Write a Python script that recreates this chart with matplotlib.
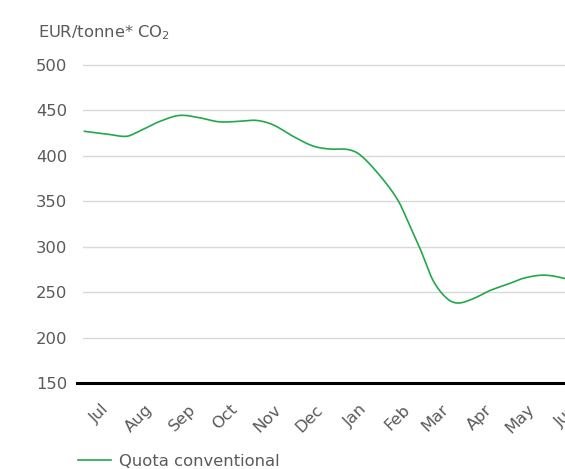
import numpy as np
import matplotlib
matplotlib.use("Agg")
import matplotlib.pyplot as plt
import matplotlib.dates as mdates
import matplotlib.transforms as mtransforms
import pandas as pd

# ---------------- data ----------------
dates = [
    "2022-06-17", "2022-07-03", "2022-07-17", "2022-07-26", "2022-08-10",
    "2022-08-24", "2022-09-07", "2022-09-21", "2022-10-06", "2022-10-18",
    "2022-10-30", "2022-11-13", "2022-11-27", "2022-12-09", "2022-12-22",
    "2022-12-31", "2023-01-15", "2023-01-27", "2023-02-03", "2023-02-12",
    "2023-02-21", "2023-03-03", "2023-03-11", "2023-03-22", "2023-04-03",
    "2023-04-15", "2023-04-26", "2023-05-08", "2023-05-17", "2023-05-26",
    "2023-06-10",
]
values = [
    427, 424, 421.5, 427, 438,
    444.5, 442, 437.5, 438, 439,
    434, 421.5, 411, 407.5, 407,
    401, 376.5, 351, 328, 297,
    263, 243, 238, 243, 252,
    258.5, 265, 268.5, 268, 265,
    262,
]
month_labels = ["Jul", "Aug", "Sep", "Oct", "Nov", "Dec",
                "Jan", "Feb", "Mar", "Apr", "May", "Jun"]
y_ticks = [150, 200, 250, 300, 350, 400, 450, 500]
series_name = "Quota conventional"
y_title = "EUR/tonne* CO$_2$"

# ---------------- style ----------------
plt.rcParams["font.family"] = ["DejaVu Sans"]
plt.rcParams["mathtext.default"] = "regular"
GREEN = "#22a84b"
GREY_TXT = "#5a5a5a"
FS = 11.8

W, H = 565, 469
fig = plt.figure(figsize=(W / 100, H / 100), dpi=100)

# axes geometry in pixels (extends past right edge like the cropped original)
left_px, right_px = 83, 615
top_px, bottom_px = 55.9, 383
ax = fig.add_axes([left_px / W, 1 - bottom_px / H,
                   (right_px - left_px) / W, (bottom_px - top_px) / H])

# smooth rendering of the read values (cubic Hermite through the points)
x = mdates.date2num(pd.to_datetime(dates))
y = np.asarray(values, dtype=float)
m = np.empty_like(y)
m[1:-1] = (y[2:] - y[:-2]) / (x[2:] - x[:-2])
m[0] = (y[1] - y[0]) / (x[1] - x[0])
m[-1] = (y[-1] - y[-2]) / (x[-1] - x[-2])
xs, ys = [], []
for i in range(len(x) - 1):
    h = x[i + 1] - x[i]
    t = np.linspace(0, 1, 30, endpoint=False)
    h00 = 2 * t**3 - 3 * t**2 + 1
    h10 = t**3 - 2 * t**2 + t
    h01 = -2 * t**3 + 3 * t**2
    h11 = t**3 - t**2
    xs.append(x[i] + t * h)
    ys.append(h00 * y[i] + h10 * h * m[i] + h01 * y[i + 1] + h11 * h * m[i + 1])
xs.append([x[-1]])
ys.append([y[-1]])
xs = np.concatenate(xs)
ys = np.concatenate(ys)

ax.plot(xs, ys, color=GREEN, lw=1.2, zorder=4, label=series_name)

ax.set_xlim(mdates.date2num(pd.Timestamp("2022-06-16")),
            mdates.date2num(pd.Timestamp("2023-07-01")))
ax.set_ylim(150, 510)

ticks = pd.date_range("2022-07-01", periods=len(month_labels), freq="MS")
ax.set_xticks(mdates.date2num(ticks))
ax.set_xticklabels(month_labels, rotation=45, ha="right", va="top",
                   rotation_mode="anchor")
ax.set_yticks(y_ticks)
ax.set_yticklabels([str(v) for v in y_ticks])

ax.tick_params(axis="both", length=0, colors=GREY_TXT, labelsize=FS)
ax.tick_params(axis="y", pad=11.5)
ax.tick_params(axis="x", pad=13.5)

# nudge rotated month labels slightly left (as in the reference)
offset = mtransforms.ScaledTranslation(-3 / 100, 0, fig.dpi_scale_trans)
for lbl in ax.get_xticklabels():
    lbl.set_transform(lbl.get_transform() + offset)

for s in ax.spines.values():
    s.set_visible(False)
ax.grid(axis="y", color="#d9d9d9", lw=1.0, zorder=1)
ax.grid(axis="x", visible=False)
ax.axhline(150, xmin=-0.012, xmax=1, color="black", lw=2.2,
           clip_on=False, zorder=5)

fig.text(38 / W, 1 - 33 / H, y_title, color=GREY_TXT, fontsize=FS,
         ha="left", va="center")

fig.legend(loc="center left", bbox_to_anchor=(78 / W, 1 - 461 / H),
           bbox_transform=fig.transFigure, frameon=False, fontsize=FS,
           labelcolor=GREY_TXT, handlelength=2.0, handletextpad=0.5,
           borderpad=0, borderaxespad=0)

fig.savefig("out.png", dpi=100)
